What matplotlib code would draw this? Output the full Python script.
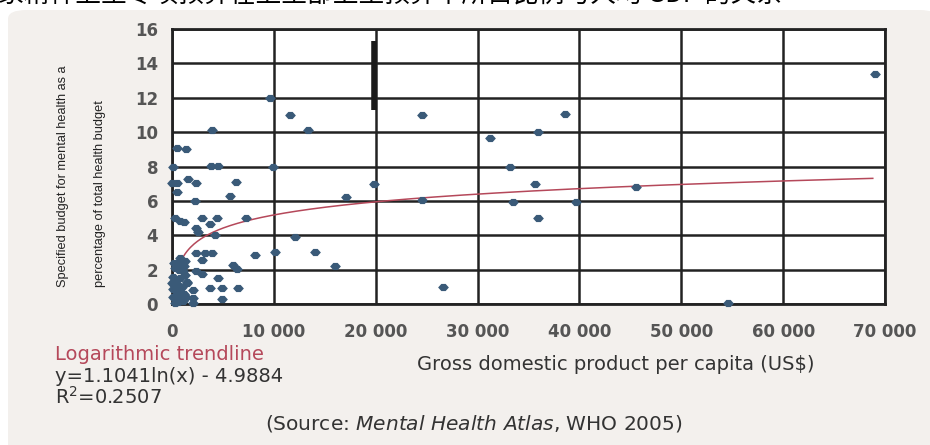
import matplotlib.pyplot as plt
from matplotlib.patches import FancyBboxPatch
import numpy as np

# GDP per capita (US$) and mental health budget (% of health budget)
gdp = [9600, 11600, 13400, 3900, 500, 1400, 100, 3800, 4500, 9900,
       0, 500, 1600, 2400, 6300, 5700, 450, 2250, 7300, 300,
       800, 2900, 4400, 3700, 1200, 2600, 4200, 2400, 12100, 2400,
       3200, 3900, 8150, 10100, 14000, 16000, 2900, 6000, 6350, 2400,
       2900, 4550, 1300, 1450, 3700, 4900, 6500, 2100, 4900, 2100,
       2100, 26600, 19800, 17100, 24500, 24500, 69000, 38600, 31200, 35900,
       33200, 35600, 45600, 33500, 39700, 35900, 54600,
       200, 500, 900, 300, 700, 1200, 100, 400, 800, 1100,
       200, 600, 1000, 1500, 300, 700, 1200, 100, 500, 900,
       1400, 600, 1100, 300, 800, 1300, 0, 100, 400]
budget = [12.0, 11.0, 10.1, 10.1, 9.1, 9.0, 8.0, 8.05, 8.05, 8.0,
          7.05, 7.05, 7.3, 7.05, 7.07, 6.3, 6.5, 6.0, 5.0, 5.0,
          4.85, 5.0, 5.0, 4.65, 4.75, 4.2, 4.0, 4.4, 3.9, 2.95,
          2.95, 2.95, 2.85, 3.0, 3.0, 2.2, 2.55, 2.27, 2.05, 1.9,
          1.75, 1.5, 1.7, 1.3, 0.95, 0.95, 0.95, 0.8, 0.3, 0.35,
          0.05, 1.0, 7.0, 6.2, 11.0, 6.05, 13.4, 11.05, 9.65, 10.0,
          8.0, 7.0, 6.8, 5.95, 5.95, 5.0, 0.05,
          2.4, 2.4, 2.4, 2.1, 2.0, 2.2, 1.6, 1.4, 1.5, 1.9,
          1.2, 1.1, 1.0, 1.2, 0.8, 0.7, 0.6, 0.4, 0.4, 0.3,
          0.4, 0.1, 0.15, 0.05, 2.7, 2.5, 1.2, 0.9, 2.3]

# logarithmic trendline shown on the chart
a_coef = 1.1041
b_coef = -4.9884
trend_x = np.linspace(800, 68800, 400)

xticks = [0, 10000, 20000, 30000, 40000, 50000, 60000, 70000]
xticklabels = ['0', '10 000', '20 000', '30 000', '40 000', '50 000', '60 000', '70 000']
yticks = [0, 2, 4, 6, 8, 10, 12, 14, 16]

fig = plt.figure(figsize=(9.3, 4.45), dpi=100)
fig.patch.set_facecolor('white')

# beige panel behind the chart
panel = FancyBboxPatch((8 / 930, -0.05), 1.0, 0.05 + 435 / 445,
                       boxstyle='round,pad=0,rounding_size=0.02',
                       transform=fig.transFigure, facecolor='#f3f0ed',
                       edgecolor='none', zorder=-5)
fig.patches.append(panel)

# cut-off Chinese title at the very top
fig.text(-0.002, 1.012, '家精神卫生专项预算在卫生部卫生预算中所占比例与人均 GDP 的关系',
         family=['Noto Sans CJK SC', 'DejaVu Sans'], fontsize=18.5,
         va='center', ha='left', color='black')

ax = fig.add_axes([172 / 930, 1 - 304 / 445, 713 / 930, 275 / 445])
ax.set_facecolor('white')
ax.set_xlim(0, 70000)
ax.set_ylim(0, 16)
ax.set_xticks(xticks)
ax.set_xticklabels(xticklabels)
ax.set_yticks(yticks)
ax.grid(True, color='#222222', linewidth=1.8)
ax.set_axisbelow(True)
for s in ax.spines.values():
    s.set_color('#222222')
    s.set_linewidth(2)
ax.tick_params(length=0, labelsize=12, labelcolor='#555555')
ax.tick_params(axis='x', pad=14)
ax.tick_params(axis='y', pad=10)
for lab in ax.get_xticklabels() + ax.get_yticklabels():
    lab.set_fontweight('bold')

# dark bar near 20 000
ax.vlines(19800, 11.3, 15.28, color='#1a1a1a', linewidth=4, zorder=3)

ax.plot(trend_x, a_coef * np.log(trend_x) + b_coef, color='#b5485a',
        linewidth=1.1, zorder=3)

diamond = [(-1.5, 0), (-0.6, 1), (0.6, 1), (1.5, 0), (0.6, -1), (-0.6, -1)]
ax.scatter(gdp, budget, marker=diamond, s=60, color='#3a5a78',
           zorder=4, clip_on=False, linewidths=0)

# y label, two lines in a narrow face, starting from the same bottom point
ylab = dict(rotation=90, rotation_mode='anchor', fontsize=9.2,
            family=['Liberation Sans Narrow', 'Liberation Sans'],
            color='#222222', ha='left', va='center')
fig.text(63 / 930, 1 - 287 / 445, 'Specified budget for mental health as a', **ylab)
fig.text(100 / 930, 1 - 287 / 445, 'percentage of total health budget', **ylab)

txt = dict(fontsize=14, color='#333333', va='center')
fig.text(55 / 930, 1 - 355 / 445, 'Logarithmic trendline', **dict(txt, color='#b5485a'))
fig.text(55 / 930, 1 - 376 / 445, 'y=1.1041ln(x) - 4.9884', **txt)
fig.text(55 / 930, 1 - 397 / 445, 'R$^2$=0.2507', **txt)
fig.text(616 / 930, 1 - 364 / 445, 'Gross domestic product per capita (US$)',
         ha='center', **txt)
fig.text(474 / 930, 1 - 424 / 445, '(Source: $\\it{Mental\\ Health\\ Atlas}$, WHO 2005)',
         ha='center', **dict(txt, fontsize=14.5))

fig.savefig('out.png', dpi=100, facecolor=fig.get_facecolor())
